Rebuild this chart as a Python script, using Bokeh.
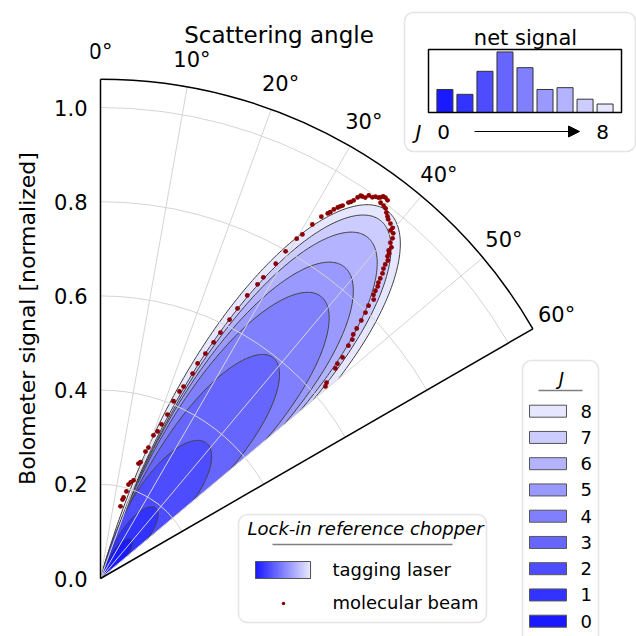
import numpy as np
from bokeh.plotting import figure
from bokeh.models import (Range1d, LinearAxis, FixedTicker, PrintfTickFormatter,
                          BoxAnnotation, Arrow, NormalHead, Title)
from bokeh.core.properties import value
from bokeh.embed import file_html
from bokeh.resources import INLINE

# ---------------- data ----------------
J_LEVELS = [0, 1, 2, 3, 4, 5, 6, 7, 8]
NET_SIGNAL = [0.38, 0.30, 0.68, 1.00, 0.74, 0.38, 0.41, 0.22, 0.14]

# cumulative tagging-laser lobes, one per J (peak signal and angular half width)
LOBE_PEAK = [0.105, 0.19, 0.365, 0.595, 0.76, 0.84, 0.92, 0.965, 0.99]
LOBE_HALFWIDTH_DEG = [23.0, 23.0, 24.0, 20.4, 20.4, 20.5, 20.3, 20.6, 22.4]
LOBE_CENTER_DEG = 38.0
ANGLE_CUT_DEG = 50.0

# molecular beam samples (scattering angle in degrees, normalized signal)
BEAM_ANGLE_DEG = [15.5, 15.6, 15.9, 16.6, 16.6, 17.4, 18.6, 18.3, 19.0, 19.5,
                  20.1, 20.3, 21.2, 21.6, 22.2, 22.4, 22.9, 23.4, 24.2, 24.3,
                  25.0, 25.6, 26.0, 26.5, 26.9, 27.4, 28.1, 28.4, 29.1, 29.5,
                  30.0, 30.4, 30.9, 31.4, 31.9, 32.1, 32.3, 32.6, 32.8, 33.0,
                  33.4, 33.6, 33.8, 34.0, 34.2, 34.4, 34.8, 35.0, 35.5, 35.75,
                  36.1, 36.3, 36.5, 36.8, 37.2, 36.7, 37.2, 37.6, 38.0, 38.4,
                  38.7, 39.25, 39.8, 39.8, 40.3, 40.65, 40.8, 41.3, 41.3, 41.6,
                  41.7, 42.1, 42.2, 42.4, 42.75, 43.0, 43.2, 43.5, 43.7, 43.9,
                  44.4, 44.5, 44.9, 45.3, 45.7, 46.0, 46.5, 46.8, 47.6, 47.8,
                  48.2, 49.1, 49.5]
BEAM_SIGNAL = [0.159, 0.174, 0.179, 0.193, 0.208, 0.214, 0.220, 0.257, 0.261, 0.286,
               0.296, 0.324, 0.335, 0.352, 0.376, 0.407, 0.431, 0.444, 0.477, 0.501,
               0.527, 0.556, 0.581, 0.614, 0.643, 0.677, 0.708, 0.727, 0.765, 0.798,
               0.833, 0.847, 0.876, 0.900, 0.913, 0.918, 0.927, 0.935, 0.940, 0.944,
               0.956, 0.960, 0.966, 0.976, 0.983, 0.983, 0.985, 0.993, 0.994, 0.999,
               1.001, 1.004, 1.009, 1.010, 1.008, 0.995, 0.994, 0.992, 0.986, 0.981,
               0.977, 0.973, 0.969, 0.962, 0.961, 0.952, 0.942, 0.936, 0.927, 0.923,
               0.916, 0.910, 0.900, 0.891, 0.882, 0.871, 0.862, 0.855, 0.845, 0.836,
               0.829, 0.812, 0.797, 0.779, 0.760, 0.746, 0.737, 0.722, 0.696, 0.679,
               0.669, 0.635, 0.628]

RADIAL_TICKS = [0.0, 0.2, 0.4, 0.6, 0.8, 1.0]
ANGLE_TICKS_DEG = [0, 10, 20, 30, 40, 50, 60]
R_MAX = 1.06

# ---------------- style ----------------
J_COLORS = ["#1a1aff", "#3333ff", "#4d4dff", "#6666ff", "#8080ff",
            "#9999ff", "#b3b3ff", "#ccccff", "#e6e6ff"]
FONT = "DejaVu Sans"
BEAM_COLOR = "#8b0000"
GRID_COLOR = "#d4d4d4"
BOX_LINE = "#a8a8a8"
EDGE = "#404040"

SCALE = 471.0                 # canvas pixels per unit of signal
X0_PX, Y0_PX = 100.0, 578.0   # pole of the sector on the canvas
FRAME_LEFT_PX = 90            # frame starts a little left of the pole


def sx(xp):
    return (np.asarray(xp, dtype=float) - X0_PX) / SCALE


def sy(yp):
    return (Y0_PX - np.asarray(yp, dtype=float)) / SCALE


def polar_xy(theta_deg, r):
    t = np.radians(np.asarray(theta_deg, dtype=float))
    r = np.asarray(r, dtype=float)
    return r * np.sin(t), r * np.cos(t)


def mix(c1, c2, t):
    a = np.array([int(c1[i:i + 2], 16) for i in (1, 3, 5)], dtype=float)
    b = np.array([int(c2[i:i + 2], 16) for i in (1, 3, 5)], dtype=float)
    c = np.round(a + (b - a) * t).astype(int)
    return "#%02x%02x%02x" % tuple(c)


p = figure(width=636, height=636,
           x_range=Range1d(float(sx(FRAME_LEFT_PX)), float(sx(636))),
           y_range=Range1d(float(sy(636)), float(sy(0))),
           x_axis_type=None, y_axis_type=None,
           toolbar_location=None, output_backend="svg",
           min_border_left=FRAME_LEFT_PX, min_border_right=0,
           min_border_top=0, min_border_bottom=0,
           outline_line_color=None,
           background_fill_color="white", border_fill_color="white")

# radial tick labels; the 0 degree edge itself is drawn below
yaxis = LinearAxis(ticker=FixedTicker(ticks=RADIAL_TICKS),
                   formatter=PrintfTickFormatter(format="%.1f"),
                   axis_line_color=None,
                   major_tick_line_color=None, minor_tick_line_color=None,
                   major_tick_in=0, major_tick_out=0,
                   major_label_standoff=3,
                   major_label_text_font=FONT,
                   major_label_text_font_size="21px",
                   major_label_text_color="black")
p.add_layout(yaxis, "left")
# radial axis title, centred on the 0..R_MAX edge
p.add_layout(Title(text="Bolometer signal [normalized]", align="center",
                   offset=-6, standoff=24,
                   text_font=FONT, text_font_size="22px",
                   text_font_style="normal", text_color="black"), "left")

# tagging-laser lobes, outermost (J = 8) first
for j in reversed(J_LEVELS):
    w = LOBE_HALFWIDTH_DEG[j]
    th = np.linspace(LOBE_CENTER_DEG - w, ANGLE_CUT_DEG, 200)
    r = LOBE_PEAK[j] * np.cos(np.radians(90.0 * (th - LOBE_CENTER_DEG) / w))
    lx, ly = polar_xy(th, r)
    p.patch(np.r_[0.0, lx, 0.0], np.r_[0.0, ly, 0.0],
            fill_color=J_COLORS[j], line_color=None)
    p.line(lx, ly, line_color=EDGE, line_width=1)

# polar grid
gxs, gys = [], []
for t in ANGLE_TICKS_DEG[1:-1]:
    gx, gy = polar_xy([t, t], [0.0, R_MAX])
    gxs.append(list(gx))
    gys.append(list(gy))
p.multi_line(gxs, gys, line_color=GRID_COLOR, line_width=1)
rings = RADIAL_TICKS[1:]
p.arc(x=[0.0] * len(rings), y=[0.0] * len(rings), radius=rings,
      start_angle=np.radians(90 - ANGLE_TICKS_DEG[-1]), end_angle=np.pi / 2,
      line_color=GRID_COLOR, line_width=1)

# sector border: 0 and 60 degree edges and the outer arc
p.arc(x=[0.0], y=[0.0], radius=[R_MAX],
      start_angle=np.radians(90 - ANGLE_TICKS_DEG[-1]), end_angle=np.pi / 2,
      line_color="black", line_width=1.5)
exs, eys = [], []
for t in (ANGLE_TICKS_DEG[0], ANGLE_TICKS_DEG[-1]):
    ex, ey = polar_xy([t, t], [0.0, R_MAX])
    exs.append(list(ex))
    eys.append(list(ey))
p.multi_line(exs, eys, line_color="black", line_width=1.5)

# molecular beam
bx, by = polar_xy(BEAM_ANGLE_DEG, BEAM_SIGNAL)
p.scatter(bx, by, size=4.8, fill_color=BEAM_COLOR, line_color=None)

# angle labels and title
tx, ty = polar_xy(ANGLE_TICKS_DEG, [1.118] * len(ANGLE_TICKS_DEG))
p.text(tx, ty, text=[f"{t}°" for t in ANGLE_TICKS_DEG],
       text_align="center", text_baseline="middle",
       text_font=value(FONT), text_font_size="21px", text_color="black")
p.text([float(sx(278.5))], [float(sy(34))], text=["Scattering angle"],
       text_align="center", text_baseline="alphabetic",
       text_font=value(FONT), text_font_size="23px", text_color="black")

# ---------------- inset: net signal per J ----------------
p.add_layout(BoxAnnotation(left=float(sx(404)), right=float(sx(635)),
                           top=float(sy(12)), bottom=float(sy(151)),
                           border_radius=9, fill_color="white", fill_alpha=1,
                           line_color=BOX_LINE, line_width=1.5, level="underlay"))
p.text([float(sx(525))], [float(sy(37))], text=["net signal"],
       text_align="center", text_baseline="alphabetic",
       text_font=value(FONT), text_font_size="21px", text_color="black")

AX_L, AX_T, AX_R, AX_B = 428.0, 49.0, 621.0, 112.0
J_LO, J_HI, V_HI = -0.82, 8.82, 1.04


def inset_x(j):
    return sx(AX_L + (np.asarray(j, dtype=float) - J_LO) / (J_HI - J_LO) * (AX_R - AX_L))


def inset_y(v):
    return sy(AX_B - np.asarray(v, dtype=float) / V_HI * (AX_B - AX_T))


jj = np.array(J_LEVELS, dtype=float)
p.quad(left=inset_x(jj - 0.4), right=inset_x(jj + 0.4),
       bottom=inset_y(np.zeros(len(jj))), top=inset_y(NET_SIGNAL),
       fill_color=J_COLORS, line_color="#333333", line_width=1)
p.quad(left=[float(sx(AX_L))], right=[float(sx(AX_R))],
       top=[float(sy(AX_T))], bottom=[float(sy(AX_B))],
       fill_color=None, line_color="black", line_width=1.5)
p.text([float(sx(418))], [float(sy(131))], text=["J"],
       text_align="center", text_baseline="middle", text_font_style="italic",
       text_font=value(FONT), text_font_size="20px", text_color="black")
p.text([float(sx(443)), float(sx(602))], [float(sy(131))] * 2,
       text=[str(J_LEVELS[0]), str(J_LEVELS[-1])],
       text_align="center", text_baseline="middle",
       text_font=value(FONT), text_font_size="20px", text_color="black")
p.add_layout(Arrow(end=NormalHead(size=11, fill_color="black", line_color="black"),
                   x_start=float(sx(474)), y_start=float(sy(131)),
                   x_end=float(sx(579)), y_end=float(sy(131)),
                   line_color="black", line_width=1.2))

# ---------------- legend: J ----------------
p.add_layout(BoxAnnotation(left=float(sx(522)), right=float(sx(598)),
                           top=float(sy(360)), bottom=float(sy(660)),
                           border_radius=9, fill_color="white", fill_alpha=1,
                           line_color=BOX_LINE, line_width=1.5, level="underlay"))
p.text([float(sx(561))], [float(sy(378))], text=["J"],
       text_align="center", text_baseline="middle", text_font_style="italic",
       text_font=value(FONT), text_font_size="18px", text_color="black")
p.line(sx([538, 582]), sy([390, 390]), line_color="#808080", line_width=1.5)
rows = [410.7 + 26.25 * k for k in range(len(J_LEVELS))]
order = list(reversed(J_LEVELS))
p.quad(left=[float(sx(529))] * len(rows), right=[float(sx(566))] * len(rows),
       top=sy(np.array(rows) - 6), bottom=sy(np.array(rows) + 6),
       fill_color=[J_COLORS[j] for j in order], line_color="#555555", line_width=1)
p.text([float(sx(580))] * len(rows), sy(rows), text=[str(j) for j in order],
       text_align="left", text_baseline="middle",
       text_font=value(FONT), text_font_size="18px", text_color="black")

# ---------------- legend: lock-in reference ----------------
p.add_layout(BoxAnnotation(left=float(sx(238)), right=float(sx(486)),
                           top=float(sy(514)), bottom=float(sy(622)),
                           border_radius=9, fill_color="white", fill_alpha=1,
                           line_color=BOX_LINE, line_width=1.5, level="underlay"))
p.text([float(sx(365))], [float(sy(528))], text=["Lock-in reference chopper"],
       text_align="center", text_baseline="middle", text_font_style="italic",
       text_font=value(FONT), text_font_size="18px", text_color="black")
p.line(sx([272, 452]), sy([544, 544]), line_color="#808080", line_width=1.5)

n_steps = 44
edges = np.linspace(255, 310, n_steps + 1)
shades = [mix(J_COLORS[0], J_COLORS[-1], k / (n_steps - 1)) for k in range(n_steps)]
p.quad(left=sx(edges[:-1]), right=sx(edges[1:] + 0.6),
       top=[float(sy(561))] * n_steps, bottom=[float(sy(578))] * n_steps,
       fill_color=shades, line_color=shades, line_width=0.5)
p.quad(left=[float(sx(255))], right=[float(sx(310))],
       top=[float(sy(561))], bottom=[float(sy(578))],
       fill_color=None, line_color="#555555", line_width=1)
p.scatter([float(sx(283))], [float(sy(603))], size=3.5,
          fill_color=BEAM_COLOR, line_color=None)
p.text([float(sx(332)), float(sx(332))], [float(sy(569)), float(sy(602))],
       text=["tagging laser", "molecular beam"],
       text_align="left", text_baseline="middle",
       text_font=value(FONT), text_font_size="18px", text_color="black")

open("out.html", "w").write(file_html(p, INLINE))
